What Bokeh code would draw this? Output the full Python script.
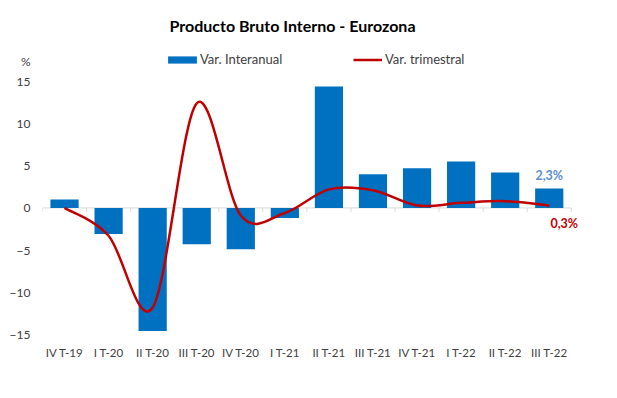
import numpy as np
from bokeh.plotting import figure
from bokeh.models import Range1d, FixedTicker, Legend, LegendItem, Label, ColumnDataSource
from bokeh.embed import file_html
from bokeh.resources import INLINE

# ---- data ----
categories = ["IV T-19", "I T-20", "II T-20", "III T-20", "IV T-20", "I T-21",
              "II T-21", "III T-21", "IV T-21", "I T-22", "II T-22", "III T-22"]
interanual = [1.0, -3.1, -14.6, -4.3, -4.9, -1.2, 14.4, 4.0, 4.7, 5.5, 4.2, 2.3]
trimestral = [0.0, -3.3, -11.8, 12.4, -0.9, -0.6, 2.2, 2.1, 0.3, 0.6, 0.8, 0.3]
y_ticks = [-15, -10, -5, 0, 5, 10, 15]
unit_label = "%"
last_interanual_label = "2,3%"
last_trimestral_label = "0,3%"

FONT = "Lato"
BLUE = "#0070C0"
RED = "#C00000"
TXT = "#404040"

n = len(categories)
xs = np.arange(n, dtype=float)

# layout helpers (pixels / axis units)
Y_TOP = 19.25        # room above 15 for legend and unit label
UNIT_POS = 17.36     # vertical position of the "%" unit label

p = figure(width=600, height=382, output_backend="svg", toolbar_location=None,
           x_range=Range1d(-0.5, n - 0.5 + 0.3), y_range=Range1d(-15, Y_TOP),
           min_border_left=42, min_border_right=16, min_border_bottom=48, min_border_top=45)
p.outline_line_color = None
p.grid.visible = False
p.background_fill_color = "white"
p.border_fill_color = "white"

# title
p.title.text = "Producto Bruto Interno - Eurozona"
p.title.align = "left"
p.title.offset = 127
p.title.standoff = 22
p.title.text_font = FONT
p.title.text_font_size = "16px"
p.title.text_font_style = "bold"
p.title.text_color = "#000000"

# axes
p.xaxis.ticker = FixedTicker(ticks=list(range(n)))
p.xaxis.major_label_overrides = {i: c for i, c in enumerate(categories)}
p.yaxis.ticker = FixedTicker(ticks=y_ticks + [UNIT_POS])
p.yaxis.major_label_overrides = {UNIT_POS: unit_label}
for ax in (p.xaxis[0], p.yaxis[0]):
    ax.axis_line_color = None
    ax.major_tick_line_color = None
    ax.minor_tick_line_color = None
    ax.major_tick_out = 0
    ax.major_tick_in = 0
    ax.major_label_text_font = FONT
    ax.major_label_text_color = TXT
p.xaxis.major_label_text_font_size = "11.5px"
p.yaxis.major_label_text_font_size = "12px"
p.xaxis.major_label_standoff = 11
p.yaxis.major_label_standoff = 12

# zero line with small category ticks
bounds = np.arange(n + 1) - 0.5
p.segment(x0=[bounds[0]], y0=[0], x1=[bounds[-1]], y1=[0], line_color="#D9D9D9", line_width=1)
p.ray(x=bounds, y=np.zeros(n + 1), length=4, length_units="screen", angle=-np.pi / 2,
      line_color="#D9D9D9", line_width=1)

# bars
src = ColumnDataSource(dict(x=xs, top=interanual))
bars = p.vbar(x="x", top="top", bottom=0, width=0.64, source=src,
              fill_color=BLUE, line_color=None)

# smoothed line (Catmull-Rom as cubic Bezier segments)
ys = np.array(trimestral, dtype=float)
padx = np.concatenate([[xs[0]], xs, [xs[-1]]])
pady = np.concatenate([[ys[0]], ys, [ys[-1]]])
i = np.arange(n - 1)
bz = dict(
    x0=padx[i + 1], y0=pady[i + 1],
    x1=padx[i + 2], y1=pady[i + 2],
    cx0=padx[i + 1] + (padx[i + 2] - padx[i]) / 6, cy0=pady[i + 1] + (pady[i + 2] - pady[i]) / 6,
    cx1=padx[i + 2] - (padx[i + 3] - padx[i + 1]) / 6, cy1=pady[i + 2] - (pady[i + 3] - pady[i + 1]) / 6,
)
line = p.bezier(source=ColumnDataSource(bz), x0="x0", y0="y0", x1="x1", y1="y1",
                cx0="cx0", cy0="cy0", cx1="cx1", cy1="cy1",
                line_color=RED, line_width=2.5)

# end labels
p.add_layout(Label(x=xs[-1], y=interanual[-1], text=last_interanual_label, y_offset=13,
                   text_align="center", text_baseline="middle", text_font=FONT,
                   text_font_size="12.5px", text_font_style="bold", text_color="#5B8FD0"))
p.add_layout(Label(x=xs[-1], y=trimestral[-1], text=last_trimestral_label, x_offset=15, y_offset=-18,
                   text_align="center", text_baseline="middle", text_font=FONT,
                   text_font_size="12.5px", text_font_style="bold", text_color=RED))

# legends (two, so each swatch gets its own width); location = bottom-left in frame pixels
common = dict(orientation="horizontal", glyph_height=9, label_height=9,
              label_text_font=FONT, label_text_font_size="13px", label_text_color=TXT,
              border_line_color=None, background_fill_alpha=0, padding=0, margin=0)
leg1 = Legend(items=[LegendItem(label="Var. Interanual", renderers=[bars])],
              location=(122, 267), glyph_width=36, label_standoff=0, **common)
leg2 = Legend(items=[LegendItem(label="Var. trimestral", renderers=[line])],
              location=(311, 267), glyph_width=29, label_standoff=3, **common)
p.add_layout(leg1)
p.add_layout(leg2)

open("out.html", "w").write(file_html(p, INLINE))
